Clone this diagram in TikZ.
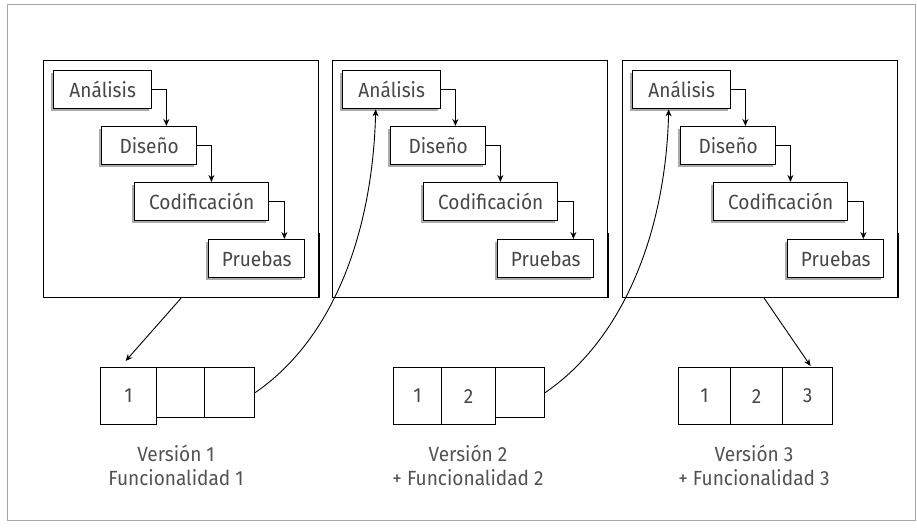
\documentclass[tikz,border=0pt]{standalone}
\usepackage{fontspec}
\setmainfont{Fira Sans}[FakeStretch=0.93]
\usetikzlibrary{shadows,arrows.meta}
\begin{document}
\begin{tikzpicture}[x=1pt,y=-1pt,
  txt/.style={text=black!72, font=\fontsize{20.5}{24}\selectfont},
  panel/.style={draw=black, line width=1.1pt, anchor=north west, inner sep=0pt},
  stage/.style={txt, draw=black, line width=1.4pt, fill=white, anchor=north west,
    minimum height=38pt, inner sep=0pt,
    drop shadow={shadow xshift=-2.5pt, shadow yshift=-2.5pt, opacity=0.6, fill=black!55}},
  cell/.style={txt, draw=black, line width=1.2pt, anchor=north west, inner sep=0pt},
  flow/.style={line width=0.9pt, -{Stealth[length=7pt,width=6pt]}},
  caption/.style={txt, align=center, text=black!68}
]
\useasboundingbox (0,0) rectangle (917,527);
\draw[black!35, line width=1pt] (7,5) rectangle (915,520);

% one waterfall iteration per panel
\foreach \i/\px in {1/43, 2/332, 3/622}{
  \node[panel, minimum width=275pt, minimum height=237pt] (p\i) at (\px,60) {};
  \draw[line width=2.4pt] ([yshift=65pt]p\i.south east) -- (p\i.south east);
  \node[stage, minimum width=98pt]  (a\i) at (\px+10,70)  {Análisis};
  \node[stage, minimum width=95pt]  (d\i) at (\px+58,126) {Diseño};
  \node[stage, minimum width=134pt] (c\i) at (\px+91,182) {Codificación};
  \node[stage, minimum width=96pt]  (t\i) at (\px+165,239) {Pruebas};
  \path (a\i.east) ++(14,0) coordinate (ka\i);
  \path (d\i.east) ++(14,0) coordinate (kd\i);
  \path (c\i.east) ++(15,0) coordinate (kc\i);
  \draw[flow] (a\i.east) -- (ka\i) -- (ka\i |- d\i.north);
  \draw[flow] (d\i.east) -- (kd\i) -- (kd\i |- c\i.north);
  \draw[flow] (c\i.east) -- (kc\i) -- (kc\i |- t\i.north);
}

% delivered versions
\node[cell, minimum width=56pt, minimum height=57pt] (v11) at (100,367) {1};
\node[cell, minimum width=48pt, minimum height=50pt] (v12) at (156,367) {};
\node[cell, minimum width=50pt, minimum height=50pt] (v13) at (204,367) {};

\node[cell, minimum width=48pt, minimum height=57pt] (v21) at (393,367) {1};
\node[cell, minimum width=54pt, minimum height=57pt] (v22) at (441,367) {2};
\node[cell, minimum width=49pt, minimum height=50pt] (v23) at (495,367) {};

\node[cell, minimum width=52pt, minimum height=57pt] (v31) at (678,367) {1};
\node[cell, minimum width=52pt, minimum height=57pt] (v32) at (730,367) {2};
\node[cell, minimum width=50pt, minimum height=57pt] (v33) at (782,367) {3};

\node[caption] (l1) at (176,465) {Versión 1\\Funcionalidad 1};
\node[caption] (l2) at (468,465) {Versión 2\\+ Funcionalidad 2};
\node[caption] (l3) at (754,465) {Versión 3\\+ Funcionalidad 3};

% connectors between iterations and versions
\coordinate (o1) at ([xshift=-138pt]p1.south east);
\coordinate (o3) at ([xshift=-134pt]p3.south east);
\draw[flow] (o1) -- ([xshift=-3pt,yshift=6pt]v11.north);
\draw[flow] (o3) -- ([xshift=3pt,yshift=1pt]v33.north);
\draw[flow] (v13.east) .. controls +(80,-55) and +(-3,120) .. ([xshift=-16pt]a2.south);
\draw[flow] (v23.east) .. controls +(80,-55) and +(-3,120) .. ([xshift=-13pt]a3.south);
\end{tikzpicture}
\end{document}
